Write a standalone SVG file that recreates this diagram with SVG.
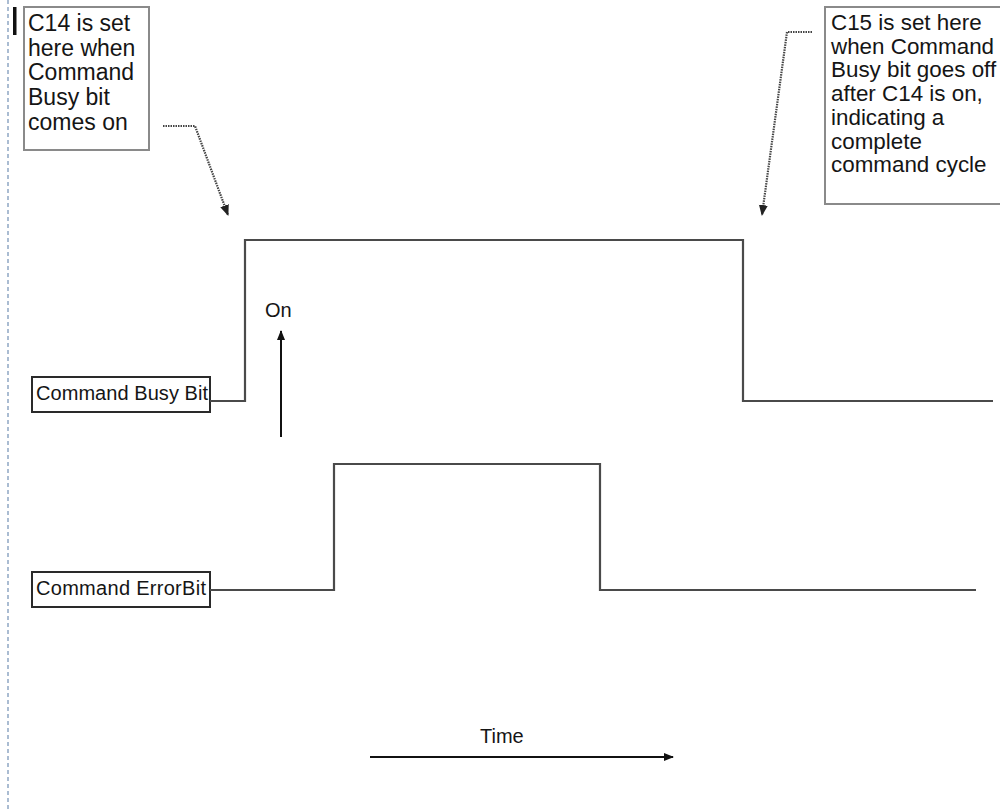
<svg xmlns="http://www.w3.org/2000/svg" width="1000" height="810" viewBox="0 0 1000 810">
<defs>
<style>
.t{font-family:"Liberation Sans",Arial,sans-serif;fill:#151515}
.big{font-size:23px}
.big2{font-size:22.4px}
.lbl{font-size:20px}
.note{fill:#fff;stroke:#8a8a8a;stroke-width:2}
.box{fill:#fff;stroke:#2a2a2a;stroke-width:2}
.sig{fill:none;stroke:#4a4a4a;stroke-width:2.2;stroke-linejoin:miter}
.dot{fill:none;stroke:#444;stroke-width:2.2;stroke-dasharray:1.5 1}
.arr{fill:none;stroke:#111;stroke-width:2}
</style>
<marker id="ah" markerWidth="10" markerHeight="10" refX="9" refY="5" orient="auto" markerUnits="userSpaceOnUse">
<path d="M0,1 L10,5 L0,9 Z" fill="#111"/>
</marker>
<marker id="ahs" markerWidth="11" markerHeight="11" refX="10" refY="5.5" orient="auto" markerUnits="userSpaceOnUse">
<path d="M0,1 L11,5.5 L0,10 Z" fill="#222"/>
</marker>
</defs>
<rect width="1000" height="810" fill="#fff"/>
<line x1="8" y1="0" x2="8" y2="810" stroke="#8fa6c4" stroke-width="1.5" stroke-dasharray="4 3"/>
<rect x="13" y="7" width="3.5" height="28" fill="#111"/>

<g id="note-c14">
<rect class="note" x="24" y="7" width="125" height="143"/>
<text class="t big" x="28" y="31">C14 is  set</text>
<text class="t big" x="28" y="55.7">here when</text>
<text class="t big" x="28" y="80.4">Command</text>
<text class="t big" x="28" y="105.1">Busy bit</text>
<text class="t big" x="28" y="129.8">comes on</text>
</g>

<g id="note-c15">
<rect class="note" x="825" y="7" width="185" height="197"/>
<text class="t big2" x="831" y="30">C15 is  set here</text>
<text class="t big2" x="831" y="53.7">when Command</text>
<text class="t big2" x="831" y="77.4">Busy bit goes off</text>
<text class="t big2" x="831" y="101.1">after C14 is on,</text>
<text class="t big2" x="831" y="124.8">indicating a</text>
<text class="t big2" x="831" y="148.5">complete</text>
<text class="t big2" x="831" y="172.2">command cycle</text>
</g>

<g id="busy-label">
<rect class="box" x="32" y="377" width="178" height="35"/>
<text class="t lbl" x="36" y="400" textLength="172" lengthAdjust="spacing">Command Busy Bit</text>
</g>

<g id="error-label">
<rect class="box" x="32" y="572" width="178" height="35"/>
<text class="t lbl" x="36" y="595" textLength="170" lengthAdjust="spacing">Command ErrorBit</text>
</g>

<g id="on-label">
<text class="t lbl" x="265" y="317">On</text>
</g>

<g id="time-label">
<text class="t lbl" x="480" y="743">Time</text>
</g>

<g id="connectors">
<polyline class="sig" points="210,401 245,401 245,240 743,240 743,401 993,401"/>
<polyline class="sig" points="210,590 334,590 334,464 600,464 600,590 976,590"/>
<line class="arr" x1="281" y1="437" x2="281" y2="331" marker-end="url(#ah)"/>
<line class="arr" x1="370" y1="757" x2="673" y2="757" marker-end="url(#ah)"/>
<polyline class="dot" points="163,126 195,126 228,215" marker-end="url(#ahs)"/>
<polyline class="dot" points="812,32 787,32 762,215" marker-end="url(#ahs)"/>
</g>
</svg>
